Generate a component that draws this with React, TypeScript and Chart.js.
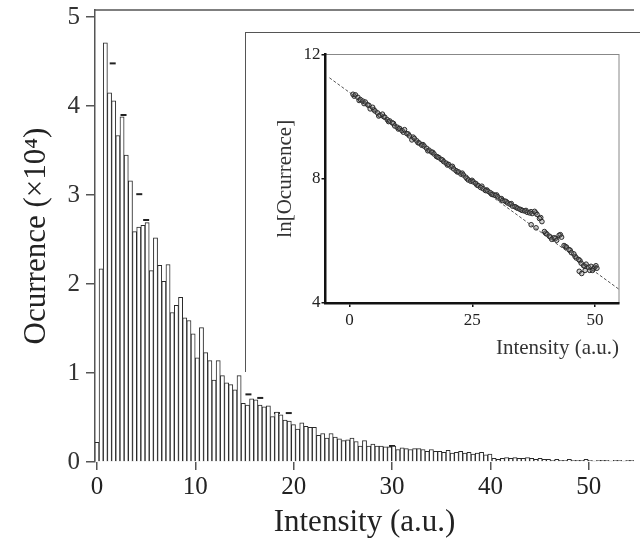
import { useEffect, useRef } from "react";
import { Chart, registerables } from "chart.js";

Chart.register(...registerables);

// main histogram: bin width in a.u., occurrence in units of 10^4
const binWidth = 0.425;
const occurrence = [
  0.22, 2.17, 4.71, 4.15, 4.06, 3.67, 3.88, 3.45, 3.16, 2.59,
  2.64, 2.66, 2.69, 2.15, 2.52, 2.21, 2.03, 2.22, 1.68, 1.76,
  1.85, 1.62, 1.59, 1.44, 1.17, 1.51, 1.23, 1.14, 0.92, 1.14,
  0.97, 0.89, 0.87, 0.81, 0.97, 0.66, 0.64, 0.71, 0.7, 0.64,
  0.62, 0.63, 0.51, 0.56, 0.53, 0.47, 0.46, 0.42, 0.37, 0.44,
  0.4, 0.39, 0.39, 0.3, 0.32, 0.27, 0.32, 0.28, 0.26, 0.24,
  0.25, 0.27, 0.23, 0.18, 0.24, 0.18, 0.2, 0.18, 0.18, 0.17,
  0.17, 0.18, 0.14, 0.16, 0.15, 0.14, 0.15, 0.15, 0.14, 0.12,
  0.14, 0.12, 0.12, 0.11, 0.13, 0.1, 0.11, 0.12, 0.1, 0.11,
  0.09, 0.1, 0.11, 0.08, 0.09, 0.04, 0.03, 0.04, 0.05, 0.04,
  0.05, 0.04, 0.04, 0.05, 0.04, 0.03, 0.04, 0.03, 0.03, 0.02,
  0.03, 0.02, 0.02, 0.03, 0.02, 0.02, 0.02, 0.03, 0.02, 0.01,
  0.02, 0.02, 0.02, 0.01, 0.02, 0.02, 0.01, 0.02, 0.02,
];
// loose bar tops floating above the histogram
const dashX = [1.6, 2.7, 4.3, 5.0, 15.4, 16.6, 18.3, 19.5, 30.0];
const dashY = [4.48, 3.9, 3.01, 2.72, 0.76, 0.72, 0.55, 0.55, 0.18];
const mainXTicks = [0, 10, 20, 30, 40, 50];
const mainYTicks = [0, 1, 2, 3, 4, 5];

// inset: ln of occurrence vs intensity
const lnX = [
  0.7, 1.2, 1.7, 2.2, 2.7, 3.2, 3.7, 4.2, 4.7, 5.2, 5.7, 6.2, 6.7, 7.2, 7.7,
  8.2, 8.7, 9.2, 9.7, 10.2, 10.7, 11.2, 11.7, 12.2, 12.7, 13.2, 13.7, 14.2,
  14.7, 15.2, 15.7, 16.2, 16.7, 17.2, 17.7, 18.2, 18.7, 19.2, 19.7, 20.2,
  20.7, 21.2, 21.7, 22.2, 22.7, 23.2, 23.7, 24.2, 24.7, 25.2, 25.7, 26.2,
  26.7, 27.2, 27.7, 28.2, 28.7, 29.2, 29.7, 30.2, 30.7, 31.2, 31.7, 32.2,
  32.7, 33.2, 33.7, 34.2, 34.7, 35.2, 35.7, 36.2, 36.7, 37.2, 37.7, 38.2,
  38.7, 39.2, 37.0, 38.0, 39.7, 40.2, 40.7, 41.2, 41.7, 42.2, 42.7, 43.2,
  43.7, 44.2, 44.7, 45.2, 45.7, 46.2, 46.7, 47.2, 47.7, 48.2, 48.7, 49.2,
  49.7, 50.2, 46.8, 47.3, 48.0, 49.5, 50.4,
];
const lnY = [
  10.72, 10.7, 10.62, 10.55, 10.5, 10.47, 10.38, 10.25, 10.3, 10.18, 10.12,
  10.05, 10.08, 9.98, 9.9, 9.86, 9.8, 9.7, 9.66, 9.62, 9.55, 9.58, 9.45,
  9.38, 9.25, 9.3, 9.22, 9.15, 9.08, 9.05, 8.98, 8.92, 8.86, 8.8, 8.72,
  8.68, 8.62, 8.55, 8.5, 8.46, 8.38, 8.32, 8.26, 8.22, 8.15, 8.12, 8.05,
  7.96, 7.92, 7.9, 7.85, 7.78, 7.72, 7.68, 7.62, 7.6, 7.55, 7.5, 7.46,
  7.42, 7.35, 7.3, 7.28, 7.22, 7.18, 7.12, 7.1, 7.05, 7.02, 6.98, 6.96,
  6.92, 6.9, 6.88, 6.95, 6.85, 6.72, 6.62, 6.52, 6.42, 6.3, 6.22, 6.15,
  6.05, 6.1, 6.02, 6.18, 6.12, 5.85, 5.8, 5.72, 5.62, 5.58, 5.45, 5.4,
  5.28, 5.2, 5.25, 5.15, 5.18, 5.1, 5.2, 5.02, 4.95, 5.05, 5.05, 5.12,
];
// second, overlapping run of points (the band is two points deep)
const lnX2 = [
  0.95, 1.95, 2.95, 3.95, 4.95, 5.95, 6.95, 7.95, 8.95, 9.95, 10.95, 11.95,
  12.95, 13.95, 14.95, 15.95, 16.95, 17.95, 18.95, 19.95, 20.95, 21.95, 22.95,
  23.95, 24.95, 25.95, 26.95, 27.95, 28.95, 29.95, 30.95, 31.95, 32.95, 33.95,
  34.95, 35.95, 36.95, 37.95, 38.95, 39.95, 40.95, 41.95, 42.95, 43.95, 44.95,
  45.95, 46.95, 47.95, 48.95, 49.95,
];
const lnY2 = [
  10.66, 10.52, 10.42, 10.36, 10.22, 10.02, 10.0, 9.84, 9.78, 9.6, 9.5, 9.44,
  9.34, 9.16, 9.1, 8.9, 8.85, 8.7, 8.6, 8.44, 8.4, 8.22, 8.18, 8.0, 7.95, 7.8,
  7.76, 7.64, 7.5, 7.48, 7.36, 7.26, 7.2, 7.08, 7.0, 6.98, 6.94, 6.9, 6.75,
  6.25, 6.12, 6.08, 6.2, 5.82, 5.7, 5.5, 5.36, 5.18, 5.05, 5.15,
];
const fitX = [-4.1, 55];
const fitY = [11.25, 4.43];
const insetXTicks = [0, 25, 50];
const insetYTicks = [4, 8, 12];

const serif = "'Liberation Serif', 'Times New Roman', serif";

export default function App() {
  const mainRef = useRef<HTMLCanvasElement>(null);
  const insetRef = useRef<HTMLCanvasElement>(null);

  useEffect(() => {
    if (!mainRef.current || !insetRef.current) return;

    // top line of the main frame
    const topLine = {
      id: "topLine",
      afterDraw(chart: Chart) {
        const { ctx, chartArea } = chart;
        ctx.save();
        ctx.strokeStyle = "#555";
        ctx.lineWidth = 1.5;
        ctx.beginPath();
        ctx.moveTo(chartArea.left, chartArea.top);
        ctx.lineTo(chartArea.right, chartArea.top);
        ctx.stroke();
        ctx.restore();
      },
    };

    // thin box round the inset plot area
    const insetBox = {
      id: "insetBox",
      beforeDraw(chart: Chart) {
        const { ctx, chartArea } = chart;
        ctx.save();
        ctx.strokeStyle = "#888";
        ctx.lineWidth = 1;
        ctx.strokeRect(chartArea.left, chartArea.top, chartArea.right - chartArea.left, chartArea.bottom - chartArea.top);
        ctx.restore();
      },
    };

    const main = new Chart(mainRef.current, {
      type: "bar",
      data: {
        datasets: [
          {
            data: occurrence.map((v, i) => ({ x: i * binWidth, y: v })),
            backgroundColor: "#fff",
            borderColor: "#2a2a2a",
            borderWidth: 1,
            barPercentage: 1,
            categoryPercentage: 1,
          },
          {
            type: "scatter",
            data: dashX.map((x, i) => ({ x, y: dashY[i] })),
            pointStyle: "line",
            pointRadius: 3,
            borderColor: "#222",
            borderWidth: 2,
          } as any,
        ],
      },
      options: {
        responsive: true,
        maintainAspectRatio: false,
        animation: false,
        layout: { padding: { top: 10, left: 0, right: 0, bottom: 0 } },
        plugins: { legend: { display: false }, tooltip: { enabled: false } },
        scales: {
          x: {
            type: "linear",
            min: -0.2,
            max: 54.6,
            offset: false,
            afterBuildTicks: (s: any) => {
              s.ticks = mainXTicks.map((v) => ({ value: v }));
            },
            afterFit: (s: any) => {
              s.height = 84;
              s.paddingLeft = 0;
              s.paddingRight = 0;
            },
            grid: { offset: false, drawOnChartArea: false, tickLength: 8, color: "#555", lineWidth: 1.5 },
            border: { display: false },
            ticks: { font: { family: serif, size: 25 }, color: "#222", padding: 2, maxRotation: 0, autoSkip: false },
            title: {
              display: true,
              text: "Intensity (a.u.)",
              font: { family: serif, size: 31 },
              color: "#222",
              padding: { top: 0, bottom: 5 },
            },
          },
          y: {
            min: 0,
            max: 5.08,
            afterBuildTicks: (s: any) => {
              s.ticks = mainYTicks.map((v) => ({ value: v }));
            },
            afterFit: (s: any) => {
              s.width = 95;
              s.paddingTop = 0;
              s.paddingBottom = 0;
            },
            grid: { drawOnChartArea: false, tickLength: 9, color: "#555", lineWidth: 1.5 },
            border: { display: true, color: "#555", width: 1.5 },
            ticks: { font: { family: serif, size: 25 }, color: "#333", padding: 6 },
            title: {
              display: true,
              text: "Ocurrence (×10⁴)",
              font: { family: serif, size: 31 },
              color: "#222",
              padding: { top: 18, bottom: 0 },
            },
          },
        },
      },
      plugins: [topLine],
    });

    const pointStyle = {
      pointRadius: 2.3,
      borderColor: "#2a2a2a",
      backgroundColor: "rgba(120,120,120,0.35)",
      borderWidth: 1,
    };

    const inset = new Chart(insetRef.current, {
      type: "scatter",
      data: {
        datasets: [
          { data: lnX.map((x, i) => ({ x, y: lnY[i] })), ...pointStyle },
          { data: lnX2.map((x, i) => ({ x, y: lnY2[i] })), ...pointStyle },
          {
            type: "line",
            data: fitX.map((x, i) => ({ x, y: fitY[i] })),
            borderColor: "#555",
            borderWidth: 1,
            borderDash: [3, 2],
            pointRadius: 0,
          } as any,
        ],
      },
      options: {
        responsive: true,
        maintainAspectRatio: false,
        animation: false,
        layout: { padding: { top: 21.5, right: 21, left: 0, bottom: 0 } },
        plugins: { legend: { display: false }, tooltip: { enabled: false } },
        scales: {
          x: {
            type: "linear",
            min: -4.9,
            max: 54.9,
            afterBuildTicks: (s: any) => {
              s.ticks = insetXTicks.map((v) => ({ value: v }));
            },
            afterFit: (s: any) => {
              s.height = 69;
              s.paddingLeft = 0;
              s.paddingRight = 0;
            },
            grid: { drawOnChartArea: false, tickLength: 4, color: "#111", lineWidth: 1.5 },
            border: { display: true, color: "#111", width: 2.5 },
            ticks: { font: { family: serif, size: 17 }, color: "#222", padding: 3, maxRotation: 0 },
            title: {
              display: true,
              text: "Intensity (a.u.)",
              align: "end",
              font: { family: serif, size: 21 },
              color: "#333",
              padding: { top: 0, bottom: 11 },
            },
          },
          y: {
            min: 4,
            max: 12,
            afterBuildTicks: (s: any) => {
              s.ticks = insetYTicks.map((v) => ({ value: v }));
            },
            afterFit: (s: any) => {
              s.width = 79.5;
              s.paddingTop = 0;
              s.paddingBottom = 0;
            },
            grid: { drawOnChartArea: false, tickLength: 4, color: "#111", lineWidth: 1.5 },
            border: { display: true, color: "#111", width: 2.5 },
            ticks: { font: { family: serif, size: 17 }, color: "#222", padding: 1 },
            title: {
              display: true,
              text: "ln[Ocurrence]",
              font: { family: serif, size: 21 },
              color: "#333",
              padding: { top: 27, bottom: 0 },
            },
          },
        },
      },
      plugins: [insetBox],
    });

    return () => {
      main.destroy();
      inset.destroy();
    };
  }, []);

  return (
    <div style={{ position: "fixed", left: 0, top: 0, width: 640, height: 546, background: "#fff", overflow: "hidden" }}>
      <div style={{ position: "absolute", left: 0, top: 0, width: 640, height: 546 }}>
        <canvas ref={mainRef} />
      </div>
      <div
        style={{
          position: "absolute",
          left: 245,
          top: 32,
          width: 395,
          height: 340,
          boxSizing: "border-box",
          borderLeft: "1.5px solid #555",
          borderTop: "1.5px solid #555",
          background: "#fff",
        }}
      >
        <div style={{ position: "relative", width: "100%", height: "100%" }}>
          <canvas ref={insetRef} />
        </div>
      </div>
    </div>
  );
}
